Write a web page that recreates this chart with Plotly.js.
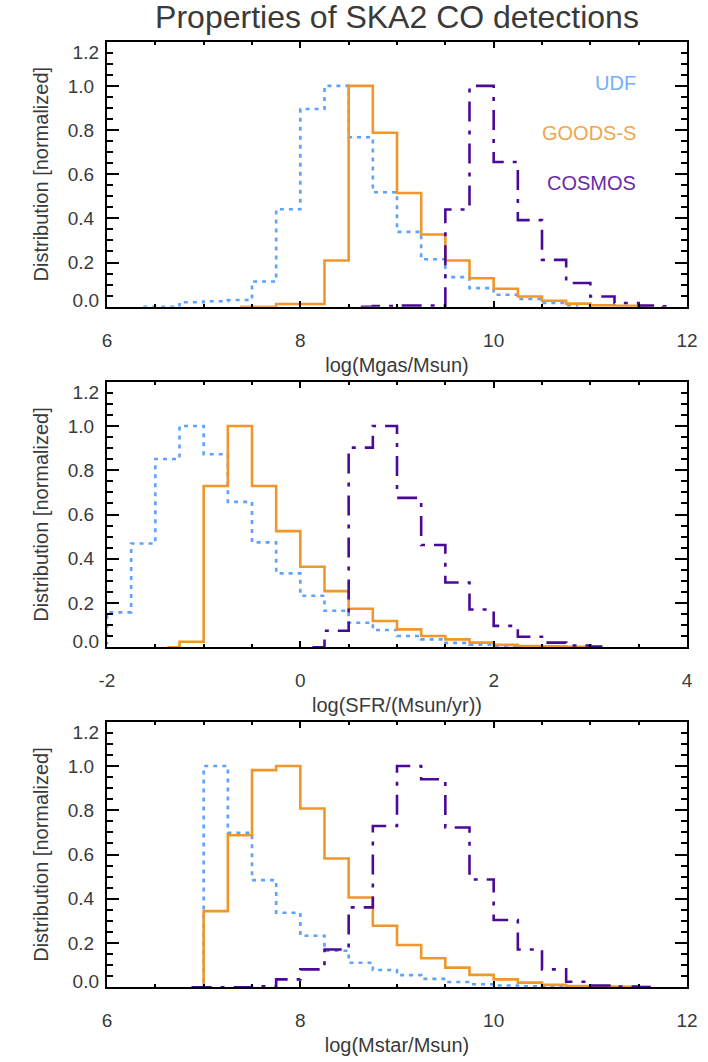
<!DOCTYPE html>
<html>
<head>
<meta charset="utf-8">
<script src="https://cdn.plot.ly/plotly-3.0.1.min.js"></script>
<style>html,body{margin:0;padding:0;background:#fff;}#chart{width:708px;height:1062px;}</style>
</head>
<body>
<div id="chart"></div>
<script>
// ---------- DATA (bin centres, normalized distributions) ----------
// Panel 1: log(Mgas/Msun)
var mgasUdfX = [6.375,6.625,6.875,7.125,7.375,7.625,7.875,8.125,8.375,8.625,8.875,9.125,9.375,9.625,9.875,10.125,10.375,10.625,10.875];
var mgasUdfY = [0.0,0.0,0.02,0.025,0.03,0.114,0.441,0.895,1.0,0.767,0.518,0.339,0.215,0.134,0.084,0.054,0.035,0.017,0.006];
var mgasGoodsX = [7.375,7.625,7.875,8.125,8.375,8.625,8.875,9.125,9.375,9.625,9.875,10.125,10.375,10.625,10.875,11.125,11.375,11.625];
var mgasGoodsY = [0.0,0.0,0.012,0.012,0.209,1.0,0.788,0.515,0.327,0.209,0.129,0.081,0.046,0.027,0.014,0.006,0.004,0.002];
var mgasCosmosX = [8.625,8.875,9.125,9.375,9.625,9.875,10.125,10.375,10.625,10.875,11.125,11.375,11.625,11.875];
var mgasCosmosY = [0.0,0.003,0.005,0.005,0.44,1.0,0.655,0.392,0.212,0.107,0.046,0.017,0.005,0.002];

// Panel 2: log(SFR/(Msun/yr))
var sfrUdfX = [-2.125,-1.875,-1.625,-1.375,-1.125,-0.875,-0.625,-0.375,-0.125,0.125,0.375,0.625,0.875,1.125,1.375,1.625,1.875,2.125,2.375,2.625];
var sfrUdfY = [0.02,0.158,0.469,0.851,1.0,0.872,0.657,0.474,0.334,0.233,0.165,0.111,0.078,0.051,0.036,0.02,0.012,0.006,0.003,0.001];
var sfrGoodsX = [-1.375,-1.125,-0.875,-0.625,-0.375,-0.125,0.125,0.375,0.625,0.875,1.125,1.375,1.625,1.875,2.125,2.375,2.625,2.875,3.125];
var sfrGoodsY = [0.0,0.025,0.729,1.0,0.729,0.525,0.364,0.254,0.174,0.119,0.081,0.051,0.036,0.021,0.011,0.006,0.004,0.002,0.001];
var sfrCosmosX = [0.125,0.375,0.625,0.875,1.125,1.375,1.625,1.875,2.125,2.375,2.625,2.875,3.125];
var sfrCosmosY = [0.0,0.075,0.902,1.0,0.675,0.462,0.293,0.171,0.097,0.048,0.021,0.008,0.003];

// Panel 3: log(Mstar/Msun)
var mstarUdfX = [6.875,7.125,7.375,7.625,7.875,8.125,8.375,8.625,8.875,9.125,9.375,9.625,9.875,10.125,10.375,10.625,10.875];
var mstarUdfY = [0.0,1.0,0.698,0.484,0.337,0.233,0.165,0.111,0.078,0.055,0.038,0.024,0.014,0.008,0.005,0.002,0.001];
var mstarGoodsX = [6.875,7.125,7.375,7.625,7.875,8.125,8.375,8.625,8.875,9.125,9.375,9.625,9.875,10.125,10.375,10.625,10.875,11.125,11.375,11.625];
var mstarGoodsY = [0.0,0.344,0.687,0.981,1.0,0.808,0.582,0.406,0.278,0.191,0.131,0.089,0.056,0.036,0.021,0.011,0.006,0.003,0.002,0.001];
var mstarCosmosX = [6.875,7.125,7.375,7.625,7.875,8.125,8.375,8.625,8.875,9.125,9.375,9.625,9.875,10.125,10.375,10.625,10.875,11.125,11.375,11.625];
var mstarCosmosY = [0.0,0.0,0.0,0.005,0.036,0.081,0.171,0.361,0.729,1.0,0.94,0.722,0.487,0.304,0.171,0.081,0.025,0.008,0.003,0.001];

// Labels
var seriesNames = ['UDF','GOODS-S','COSMOS'];
var xTitles = ['log(Mgas/Msun)','log(SFR/(Msun/yr))','log(Mstar/Msun)'];
var xRanges = [[6,12],[-2,4],[6,12]];
var xTickVals = [[6,8,10,12],[-2,0,2,4],[6,8,10,12]];
var xTickText = [['6','8','10','12'],['-2','0','2','4'],['6','8','10','12']];
var yTickVals = [0,0.2,0.4,0.6,0.8,1.0,1.2];
var yTickText = ['','0.2','0.4','0.6','0.8','1.0',''];
var yEndText = ['0.0','1.2'];
var yEndPos = [0.027,1.15];

// ---------- STYLE ----------
var FONT = 'Liberation Sans, Arial, Helvetica, sans-serif';
var TXT = '#3a3a3a';
var cUdf = '#5ea2ff', cGoods = '#f0962a', cCosmos = '#4b0a96';
var lineStyles = [
  {color:cUdf, width:2.6, dash:'4px,5px', shape:'hvh'},
  {color:cGoods, width:2.6, dash:'solid', shape:'hvh'},
  {color:cCosmos, width:2.6, dash:'20px,9px,4px,9px', shape:'hvh'}
];

var panels = [
  [[mgasUdfX,mgasUdfY],[mgasGoodsX,mgasGoodsY],[mgasCosmosX,mgasCosmosY]],
  [[sfrUdfX,sfrUdfY],[sfrGoodsX,sfrGoodsY],[sfrCosmosX,sfrCosmosY]],
  [[mstarUdfX,mstarUdfY],[mstarGoodsX,mstarGoodsY],[mstarCosmosX,mstarCosmosY]]
];

var H = 1062;
function dom(top, bottom){ return [(H-bottom)/H, (H-top)/H]; }
var domains = [dom(41.7,306.7), dom(381.7,647.3), dom(721.7,987.3)];

var traces = [];
var layout = {
  width:708, height:1062,
  margin:{l:107, r:21, t:0, b:0},
  paper_bgcolor:'#fff', plot_bgcolor:'#fff',
  showlegend:false,
  font:{family:FONT, color:TXT, size:19},
  title:{text:'Properties of SKA2 CO detections', font:{family:FONT, size:32, color:TXT},
         x:0.5, xref:'paper', xanchor:'center', y:1-17/H, yref:'container', yanchor:'middle'},
  annotations:[]
};

for (var p=0; p<3; p++){
  var xa = p===0 ? 'x' : 'x'+(p+1);
  var ya = p===0 ? 'y' : 'y'+(p+1);
  var yo = 'y'+(p+4);
  for (var s=0; s<3; s++){
    traces.push({
      type:'scatter', mode:'lines', name:seriesNames[s],
      x:panels[p][s][0], y:panels[p][s][1],
      xaxis:xa, yaxis:ya,
      line:lineStyles[s], hoverinfo:'skip'
    });
  }
  // empty trace to register the overlay axis carrying the end labels
  traces.push({type:'scatter', mode:'lines', x:[], y:[], xaxis:xa, yaxis:yo, hoverinfo:'skip'});

  layout[p===0?'xaxis':'xaxis'+(p+1)] = {
    domain:[0,1], anchor:ya, range:xRanges[p], autorange:false,
    showline:true, linecolor:'#000', linewidth:2, mirror:'ticks',
    showgrid:false, zeroline:false,
    ticks:'inside', ticklen:6, tickwidth:2, tickcolor:'#000',
    tickmode:'array', tickvals:xTickVals[p], ticktext:xTickText[p],
    minor:{dtick:0.5, tick0:0, ticks:'inside', ticklen:3, tickwidth:2, tickcolor:'#000', showgrid:false},
    tickfont:{family:FONT, size:19, color:TXT},
    ticklabelstandoff:15,
    title:{text:xTitles[p], font:{family:FONT, size:20, color:TXT}, standoff:8}
  };
  layout[p===0?'yaxis':'yaxis'+(p+1)] = {
    domain:domains[p], anchor:xa, range:[0,1.2], autorange:false,
    showline:true, linecolor:'#000', linewidth:2, mirror:'ticks',
    showgrid:false, zeroline:false,
    ticks:'inside', ticklen:12, tickwidth:2, tickcolor:'#000',
    tickmode:'array', tickvals:yTickVals, ticktext:yTickText,
    minor:{dtick:0.05, tick0:0, ticks:'inside', ticklen:6, tickwidth:2, tickcolor:'#000', showgrid:false},
    tickfont:{family:FONT, size:19, color:TXT},
    ticklabelstandoff:7,
    title:{text:'Distribution [normalized]', font:{family:FONT, size:20, color:TXT}, standoff:14}
  };
  layout['yaxis'+(p+4)] = {
    overlaying:ya, anchor:xa, side:'left', range:[0,1.2], autorange:false,
    showline:false, showgrid:false, zeroline:false, ticks:'',
    tickmode:'array', tickvals:yEndPos, ticktext:yEndText,
    tickfont:{family:FONT, size:19, color:TXT},
    ticklabelstandoff:7
  };
}

// legend labels in the top panel
var legColors = ['#74aeff','#f0a64c','#6a2aa8'];
var legY = [0.844,0.655,0.467];
for (var i=0;i<3;i++){
  layout.annotations.push({
    text:seriesNames[i], xref:'x domain', yref:'y domain', x:0.9156, y:legY[i],
    xanchor:'right', yanchor:'middle', showarrow:false,
    font:{family:FONT, size:20, color:legColors[i]}
  });
}

Plotly.newPlot('chart', traces, layout, {staticPlot:true, displayModeBar:false});
</script>
</body>
</html>
